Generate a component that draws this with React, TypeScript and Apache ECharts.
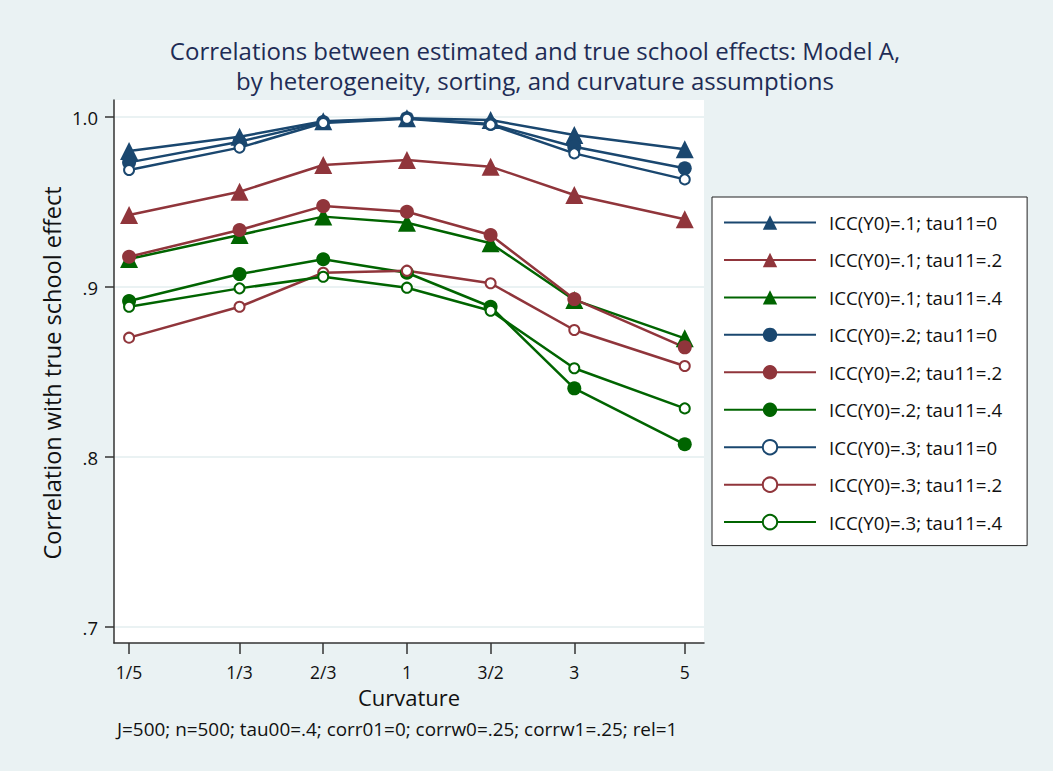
import React, { useEffect, useRef } from 'react';
import * as echarts from 'echarts';

const curvatureLabels = ['1/5', '1/3', '2/3', '1', '3/2', '3', '5'];
const curvaturePos = [-3.32, -2, -1, 0, 1, 2, 3.32];
const yTicks = [0.7, 0.8, 0.9, 1.0];
const yTickLabels = ['.7', '.8', '.9', '1.0'];

const seriesNames = [
  'ICC(Y0)=.1; tau11=0',
  'ICC(Y0)=.1; tau11=.2',
  'ICC(Y0)=.1; tau11=.4',
  'ICC(Y0)=.2; tau11=0',
  'ICC(Y0)=.2; tau11=.2',
  'ICC(Y0)=.2; tau11=.4',
  'ICC(Y0)=.3; tau11=0',
  'ICC(Y0)=.3; tau11=.2',
  'ICC(Y0)=.3; tau11=.4',
];

const icc1tau0 = [0.980, 0.9884, 0.9975, 0.9993, 0.9982, 0.9894, 0.981];
const icc1tau2 = [0.9424, 0.956, 0.9718, 0.9747, 0.9708, 0.9541, 0.9398];
const icc1tau4 = [0.9165, 0.9306, 0.9414, 0.9378, 0.9257, 0.8924, 0.8698];
const icc2tau0 = [0.9733, 0.9855, 0.997, 0.9992, 0.9959, 0.9825, 0.9698];
const icc2tau2 = [0.9178, 0.9335, 0.9476, 0.9443, 0.9306, 0.8929, 0.8645];
const icc2tau4 = [0.8918, 0.9076, 0.9163, 0.9084, 0.8884, 0.8404, 0.8075];
const icc3tau0 = [0.9688, 0.982, 0.9965, 0.999, 0.9955, 0.9786, 0.9633];
const icc3tau2 = [0.8702, 0.8884, 0.9084, 0.9096, 0.9022, 0.8747, 0.8535];
const icc3tau4 = [0.8884, 0.8992, 0.906, 0.8996, 0.886, 0.8522, 0.8286];

const seriesValues = [icc1tau0, icc1tau2, icc1tau4, icc2tau0, icc2tau2, icc2tau4, icc3tau0, icc3tau2, icc3tau4];

const titleLines = [
  'Correlations between estimated and true school effects: Model A,',
  'by heterogeneity, sorting, and curvature assumptions',
];

const NAVY = '#1a476f';
const MAROON = '#90353b';
const GREEN = '#006400';
const colors = [NAVY, MAROON, GREEN];
const FONT = 'Open Sans';

export default function App() {
  const ref = useRef<HTMLDivElement>(null);
  useEffect(() => {
    if (!ref.current) return;
    const chart = echarts.init(ref.current, undefined, { renderer: 'svg' });
    const series = seriesValues.map((vals, i) => {
      const group = Math.floor(i / 3);
      const color = colors[i % 3];
      const symbol = group === 0 ? 'triangle' : group === 1 ? 'circle' : 'emptyCircle';
      const symbolSize = group === 0 ? 18 : group === 1 ? 14 : 10;
      return {
        name: seriesNames[i],
        type: 'line',
        data: vals.map((v, j) => [curvaturePos[j], v]),
        symbol,
        symbolSize,
        showSymbol: true,
        color,
        lineStyle: { color, width: 2.5 },
        itemStyle: group === 2 ? { color, borderColor: color, borderWidth: 2.3 } : { color },
        emphasis: { disabled: true },
        z: 3,
      };
    });
    const option: any = {
      animation: false,
      backgroundColor: '#eaf2f3',
      textStyle: { fontFamily: FONT },
      grid: {
        left: 114,
        top: 100,
        right: 349,
        bottom: 128,
        show: true,
        backgroundColor: '#ffffff',
        borderWidth: 0,
      },
      xAxis: {
        type: 'value',
        min: -3.5,
        max: 3.55,
        axisLine: { show: true, onZero: false, lineStyle: { color: '#333', width: 1.5 } },
        axisTick: { show: true, length: 11, customValues: curvaturePos, lineStyle: { color: '#333', width: 1.5 } },
        axisLabel: {
          customValues: curvaturePos,
          formatter: (v: number) => {
            const idx = curvaturePos.findIndex((p) => Math.abs(p - v) < 1e-6);
            return idx >= 0 ? curvatureLabels[idx] : '';
          },
          fontSize: 17.5,
          color: '#111',
          margin: 20,
          fontFamily: FONT,
        },
        splitLine: { show: false },
      },
      yAxis: {
        type: 'value',
        min: 0.6906,
        max: 1.01,
        axisLine: { show: true, onZero: false, lineStyle: { color: '#333', width: 1.5 } },
        axisTick: { show: true, length: 9, customValues: yTicks, lineStyle: { color: '#333', width: 1.5 } },
        axisLabel: {
          customValues: yTicks,
          formatter: (v: number) => {
            const idx = yTicks.findIndex((p) => Math.abs(p - v) < 1e-6);
            return idx >= 0 ? yTickLabels[idx] : '';
          },
          fontSize: 18.5,
          color: '#111',
          margin: 16,
          fontFamily: FONT,
        },
        splitLine: { show: true, lineStyle: { color: '#eaf2f3', width: 2 } },
      },
      legend: {
        orient: 'vertical',
        left: 712,
        top: 197,
        padding: [16, 25, 14, 11],
        itemWidth: 92,
        itemHeight: 18,
        itemGap: 18.45,
        backgroundColor: '#ffffff',
        borderColor: '#222',
        borderWidth: 1,
        borderRadius: 0,
        textStyle: { fontSize: 18.7, fontFamily: FONT, color: '#111', padding: [0, 0, 0, 8], lineHeight: 18 },
        data: seriesNames,
      },
      graphic: [
        {
          type: 'text',
          x: 535,
          y: 50,
          style: {
            text: titleLines[0],
            fontSize: 24,
            fontFamily: FONT,
            fill: '#1e2c55',
            align: 'center',
            verticalAlign: 'middle',
          },
        },
        {
          type: 'text',
          x: 535,
          y: 80,
          style: {
            text: titleLines[1],
            fontSize: 24,
            fontFamily: FONT,
            fill: '#1e2c55',
            align: 'center',
            verticalAlign: 'middle',
          },
        },
        {
          type: 'text',
          x: 52,
          y: 373,
          rotation: Math.PI / 2,
          style: {
            text: 'Correlation with true school effect',
            fontSize: 23.5,
            fontFamily: FONT,
            fill: '#111',
            align: 'center',
            verticalAlign: 'middle',
          },
        },
        {
          type: 'text',
          x: 409,
          y: 697,
          style: {
            text: 'Curvature',
            fontSize: 22,
            fontFamily: FONT,
            fill: '#111',
            align: 'center',
            verticalAlign: 'middle',
          },
        },
        {
          type: 'text',
          x: 117,
          y: 729,
          style: {
            text: 'J=500; n=500; tau00=.4; corr01=0; corrw0=.25; corrw1=.25; rel=1',
            fontSize: 18.9,
            fontFamily: FONT,
            fill: '#111',
            align: 'left',
            verticalAlign: 'middle',
          },
        },
      ],
      series,
    };
    chart.setOption(option);
    return () => chart.dispose();
  }, []);
  return (
    <div
      ref={ref}
      style={{ position: 'fixed', left: 0, top: 0, width: 1053, height: 771 }}
    />
  );
}
